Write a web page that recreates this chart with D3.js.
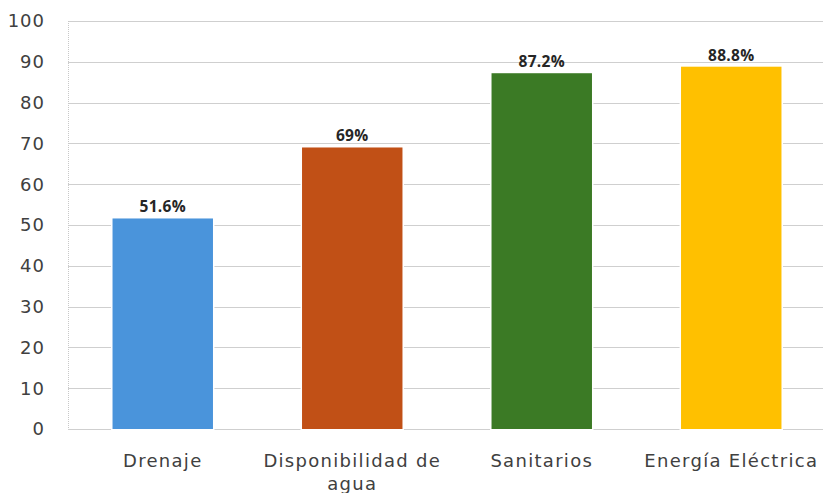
<!DOCTYPE html>
<html>
<head>
<meta charset="utf-8">
<script src="https://cdn.jsdelivr.net/npm/d3@7"></script>
<style>
  body { margin: 0; background: #fff; }
  svg text { font-family: "DejaVu Sans", sans-serif; }
</style>
</head>
<body>
<div id="chart"></div>
<script>
// data
const categories = ["Drenaje", "Disponibilidad de agua", "Sanitarios", "Energía Eléctrica"];
const values = [51.6, 69, 87.2, 88.8];
const barColors = ["#4a94db", "#c15016", "#3b7a25", "#ffc000"];
const yTicks = [0, 10, 20, 30, 40, 50, 60, 70, 80, 90, 100];

const width = 823, height = 493;
const margin = { top: 21, right: -3, bottom: 64, left: 68 };

const svg = d3.select("#chart").append("svg")
  .attr("width", width).attr("height", height);

const x = d3.scaleBand()
  .domain(categories)
  .range([margin.left, width - margin.right])
  .paddingInner(0.47).paddingOuter(0.235);

const y = d3.scaleLinear()
  .domain([0, 100])
  .range([height - margin.bottom, margin.top]);

// gridlines
svg.append("g")
  .selectAll("line")
  .data(yTicks)
  .join("line")
  .attr("x1", margin.left).attr("x2", width)
  .attr("y1", d => Math.round(y(d)) + 0.5).attr("y2", d => Math.round(y(d)) + 0.5)
  .attr("stroke", "#cfcfcf").attr("stroke-width", 1.2);

// left axis line (dotted)
svg.append("line")
  .attr("x1", margin.left + 0.5).attr("x2", margin.left + 0.5)
  .attr("y1", y(100)).attr("y2", y(0))
  .attr("stroke", "#c8c8c8").attr("stroke-dasharray", "1,1");

// y tick labels
svg.append("g")
  .selectAll("text")
  .data(yTicks)
  .join("text")
  .attr("x", 45).attr("y", d => y(d))
  .attr("dy", "0.35em")
  .attr("text-anchor", "end")
  .attr("font-size", 18)
  .attr("letter-spacing", 1)
  .attr("fill", "#404040")
  .text(d => d);

// bars with white gap where they cross the gridlines
svg.append("g")
  .selectAll("rect")
  .data(values)
  .join("rect")
  .attr("x", (d, i) => x(categories[i]))
  .attr("y", d => y(d))
  .attr("width", x.bandwidth())
  .attr("height", d => y(0) - y(d))
  .attr("fill", (d, i) => barColors[i])
  .attr("stroke", "#fff").attr("stroke-width", 3);

svg.append("g")
  .selectAll("rect")
  .data(values)
  .join("rect")
  .attr("x", (d, i) => x(categories[i]))
  .attr("y", d => y(d))
  .attr("width", x.bandwidth())
  .attr("height", d => y(0) - y(d))
  .attr("fill", (d, i) => barColors[i]);

// value labels
svg.append("g")
  .selectAll("text")
  .data(values)
  .join("text")
  .attr("x", (d, i) => x(categories[i]) + x.bandwidth() / 2)
  .attr("y", d => y(d) - 6)
  .attr("text-anchor", "middle")
  .attr("font-size", 15.5)
  .attr("font-weight", "bold")
  .attr("letter-spacing", 0.3)
  .attr("fill", "#262626")
  .style("font-family", "'Open Sans', sans-serif")
  .text(d => d + "%");

// category labels, wrapped
const maxW = 195;
svg.append("g")
  .selectAll("text")
  .data(categories)
  .join("text")
  .attr("x", d => x(d) + x.bandwidth() / 2)
  .attr("y", 467)
  .attr("text-anchor", "middle")
  .attr("font-size", 18)
  .attr("letter-spacing", 1.3)
  .attr("fill", "#404040")
  .each(function (d) {
    const t = d3.select(this);
    const cx = +t.attr("x");
    const words = d.split(" ");
    let line = [];
    let tspan = t.append("tspan").attr("x", cx).attr("dy", 0);
    words.forEach(w => {
      line.push(w);
      tspan.text(line.join(" "));
      if (tspan.node().getComputedTextLength() > maxW && line.length > 1) {
        line.pop();
        tspan.text(line.join(" "));
        line = [w];
        tspan = t.append("tspan").attr("x", cx).attr("dy", "1.3em").text(w);
      }
    });
  });
</script>
</body>
</html>
